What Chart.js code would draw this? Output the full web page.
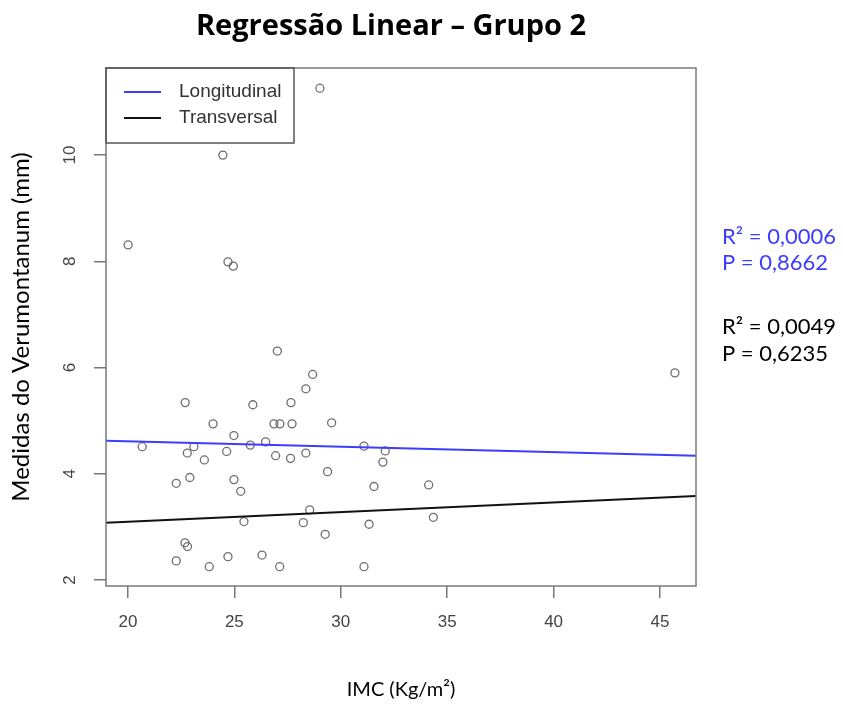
<!DOCTYPE html>
<html>
<head>
<meta charset="utf-8">
<title>Regressão Linear – Grupo 2</title>
<script src="https://cdn.jsdelivr.net/npm/chart.js@4.4.0/dist/chart.umd.min.js"></script>
<style>
  html, body { margin: 0; padding: 0; background: #fff; }
</style>
</head>
<body>
<canvas id="regressaoChart" width="843" height="706"></canvas>
<script>
const imc = [29.02, 24.46, 20.01, 24.70, 24.95, 27.02, 28.68, 28.36, 22.69, 25.87,
             27.66, 24.00, 26.86, 27.14, 27.71, 29.57, 24.98, 26.47, 25.75, 20.67,
             23.10, 22.79, 24.64, 23.59, 26.94, 27.64, 28.36, 29.38, 22.27, 22.91,
             24.98, 25.30, 28.54, 25.45, 28.24, 29.27, 22.68, 22.80, 22.27, 24.70,
             26.30, 23.82, 27.13, 31.09, 32.09, 31.98, 31.56, 34.13, 31.33, 34.35,
             31.09, 45.70];
const verumontanum = [11.26, 10.00, 8.31, 7.99, 7.91, 6.31, 5.87, 5.60, 5.34, 5.30,
                      5.34, 4.94, 4.94, 4.94, 4.94, 4.96, 4.72, 4.60, 4.54, 4.51,
                      4.51, 4.39, 4.42, 4.26, 4.34, 4.29, 4.39, 4.04, 3.82, 3.93,
                      3.89, 3.67, 3.32, 3.10, 3.08, 2.86, 2.70, 2.63, 2.36, 2.44,
                      2.47, 2.25, 2.25, 4.52, 4.43, 4.22, 3.76, 3.79, 3.05, 3.18,
                      2.25, 5.90];

// limites dos eixos e ticks
const xLimits = [18.97, 46.69];
const yLimits = [1.887, 11.64];
const xTicks = [20, 25, 30, 35, 40, 45];
const yTicks = [2, 4, 6, 8, 10];

// retas de regressão (valor de y nos limites do eixo x)
const longitudinalLine = [4.62, 4.34];
const transversalLine = [3.08, 3.58];

const legendLabels = ['Longitudinal', 'Transversal'];
const statsLongitudinal = ['R² = 0,0006', 'P = 0,8662'];
const statsTransversal = ['R² = 0,0049', 'P = 0,6235'];

const blue = '#3d3dff';

// caixa, rótulos do eixo y girados, legenda, título e estatísticas
const extras = {
    id: 'extras',
    afterDraw(chart) {
        const { ctx, chartArea: a, scales } = chart;
        ctx.save();

        // caixa do gráfico (estilo R)
        ctx.strokeStyle = '#7a7a7a';
        ctx.lineWidth = 1.5;
        ctx.strokeRect(a.left, a.top, a.right - a.left, a.bottom - a.top);

        // rótulos do eixo y, rotacionados como no R
        ctx.fillStyle = '#444';
        ctx.font = '17px "Liberation Sans"';
        ctx.textAlign = 'center';
        ctx.textBaseline = 'middle';
        scales.y.ticks.forEach(t => {
            const py = scales.y.getPixelForValue(t.value);
            ctx.save();
            ctx.translate(a.left - 36, py);
            ctx.rotate(-Math.PI / 2);
            ctx.fillText(String(t.value), 0, 0);
            ctx.restore();
        });

        // legenda
        ctx.strokeStyle = '#555';
        ctx.lineWidth = 1.5;
        ctx.strokeRect(a.left, a.top, 188, 75);
        const colors = [blue, '#111'];
        legendLabels.forEach((lbl, i) => {
            const ly = a.top + 24 + i * 26;
            ctx.strokeStyle = colors[i];
            ctx.lineWidth = 2;
            ctx.beginPath();
            ctx.moveTo(a.left + 18, ly);
            ctx.lineTo(a.left + 55, ly);
            ctx.stroke();
            ctx.fillStyle = '#333';
            ctx.font = '19px "Liberation Sans"';
            ctx.textAlign = 'left';
            ctx.fillText(lbl, a.left + 73, ly);
        });

        // título
        ctx.fillStyle = '#000';
        ctx.font = 'bold 29px "Open Sans"';
        ctx.textAlign = 'center';
        ctx.fillText('Regressão Linear – Grupo 2', 391, 27);

        // estatísticas à direita
        ctx.textAlign = 'left';
        ctx.font = '22px Lato';
        ctx.fillStyle = blue;
        ctx.fillText(statsLongitudinal[0], 722, 237);
        ctx.fillText(statsLongitudinal[1], 722, 263);
        ctx.fillStyle = '#000';
        ctx.fillText(statsTransversal[0], 722, 327);
        ctx.fillText(statsTransversal[1], 722, 354);

        ctx.restore();
    }
};

const ctx = document.getElementById('regressaoChart').getContext('2d');
const regressaoChart = new Chart(ctx, {
    type: 'scatter',
    data: {
        datasets: [
            {
                label: 'Longitudinal',
                type: 'line',
                data: [{ x: xLimits[0], y: longitudinalLine[0] }, { x: xLimits[1], y: longitudinalLine[1] }],
                borderColor: blue,
                borderWidth: 2,
                pointRadius: 0
            },
            {
                label: 'Transversal',
                type: 'line',
                data: [{ x: xLimits[0], y: transversalLine[0] }, { x: xLimits[1], y: transversalLine[1] }],
                borderColor: '#111',
                borderWidth: 2,
                pointRadius: 0
            },
            {
                label: 'Pacientes',
                data: imc.map((v, i) => ({ x: v, y: verumontanum[i] })),
                backgroundColor: 'rgba(0,0,0,0)',
                borderColor: '#6e6e6e',
                borderWidth: 1.3,
                pointRadius: 4
            }
        ]
    },
    options: {
        responsive: false,
        animation: false,
        devicePixelRatio: 1,
        layout: {
            padding: { top: 68, right: 147, left: 0, bottom: 0 }
        },
        plugins: {
            legend: { display: false },
            title: { display: false },
            tooltip: { enabled: false }
        },
        scales: {
            x: {
                type: 'linear',
                position: 'bottom',
                min: xLimits[0],
                max: xLimits[1],
                afterFit: s => { s.height = 120; },
                afterBuildTicks: s => { s.ticks = xTicks.map(v => ({ value: v })); },
                ticks: {
                    padding: 14,
                    color: '#444',
                    font: { family: 'Liberation Sans', size: 17 },
                    maxRotation: 0
                },
                grid: { drawOnChartArea: false, tickLength: 12, color: '#777', lineWidth: 1.5 },
                border: { display: false },
                title: {
                    display: true,
                    text: 'IMC (Kg/m²)',
                    color: '#000',
                    font: { family: 'Lato', size: 20 },
                    padding: { top: 0, bottom: 4 }
                }
            },
            y: {
                type: 'linear',
                min: yLimits[0],
                max: yLimits[1],
                afterFit: s => { s.width = 106; },
                afterBuildTicks: s => { s.ticks = yTicks.map(v => ({ value: v })); },
                ticks: { display: false },
                grid: { drawOnChartArea: false, tickLength: 12, color: '#777', lineWidth: 1.5 },
                border: { display: false },
                title: {
                    display: true,
                    text: 'Medidas do Verumontanum (mm)',
                    color: '#000',
                    font: { family: 'Lato', size: 24 },
                    padding: { top: 7, bottom: 0 }
                }
            }
        }
    },
    plugins: [extras]
});
</script>
</body>
</html>
